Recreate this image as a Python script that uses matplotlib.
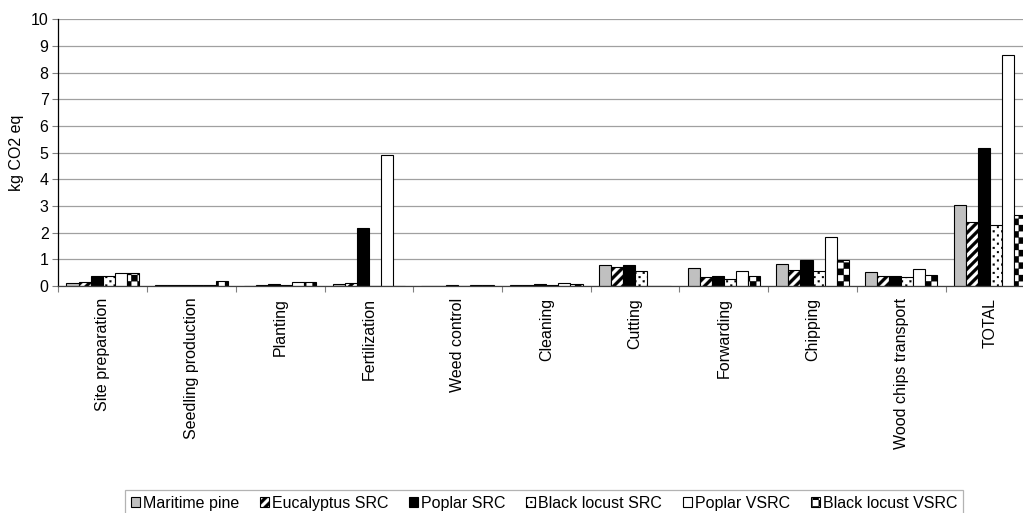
import warnings
warnings.filterwarnings("ignore")
import numpy as np
import matplotlib
matplotlib.use("Agg")
import matplotlib.pyplot as plt
import matplotlib.hatch as mhatch
from matplotlib.path import Path

# ---------------- data ----------------
categories = ["Site preparation", "Seedling production", "Planting", "Fertilization",
              "Weed control", "Cleaning", "Cutting", "Forwarding", "Chipping",
              "Wood chips transport", "TOTAL"]
series_names = ["Maritime pine", "Eucalyptus SRC", "Poplar SRC",
                "Black locust SRC", "Poplar VSRC", "Black locust VSRC"]
maritime_pine = [0.10, 0.02, 0.01, 0.07, 0.01, 0.03, 0.77, 0.66, 0.82, 0.52, 3.02]
eucalyptus_src = [0.15, 0.02, 0.02, 0.13, 0.01, 0.03, 0.71, 0.33, 0.61, 0.37, 2.40]
poplar_src = [0.37, 0.03, 0.06, 2.18, 0.02, 0.08, 0.80, 0.38, 0.96, 0.38, 5.18]
black_locust_src = [0.37, 0.03, 0.05, 0.00, 0.01, 0.05, 0.56, 0.26, 0.55, 0.35, 2.28]
poplar_vsrc = [0.47, 0.03, 0.15, 4.90, 0.02, 0.11, 0.00, 0.56, 1.84, 0.62, 8.67]
black_locust_vsrc = [0.50, 0.18, 0.15, 0.00, 0.02, 0.07, 0.00, 0.37, 0.99, 0.41, 2.67]
y_ticks = list(range(0, 11))
y_label = "kg CO2 eq"


# ---------------- custom filled hatch patterns ----------------
class _QuadHatch(mhatch.HatchPatternBase):
    char = None

    def __init__(self, hatch, density):
        self.quads = self.make_quads() if (hatch and self.char in hatch) else []
        self.num_vertices = 5 * len(self.quads)

    def make_quads(self):
        return []

    def set_vertices_and_codes(self, vertices, codes):
        for i, q in enumerate(self.quads):
            vertices[5 * i:5 * i + 4] = q
            vertices[5 * i + 4] = q[0]
            codes[5 * i] = Path.MOVETO
            codes[5 * i + 1:5 * i + 4] = Path.LINETO
            codes[5 * i + 4] = Path.CLOSEPOLY


class CheckerHatch(_QuadHatch):
    char = "k"

    def make_quads(self):
        n = 16
        s = 1.0 / n
        quads = []
        for i in range(n):
            for j in range(n):
                if (i + j) % 2 == 0:
                    x0, y0 = i * s, j * s
                    quads.append([(x0, y0), (x0 + s, y0), (x0 + s, y0 + s), (x0, y0 + s)])
        return quads


class StripeHatch(_QuadHatch):
    char = "s"

    def make_quads(self):
        k = 11
        w = 0.042
        quads = []
        for b in np.arange(-1.2, 1.2, 1.0 / k):
            quads.append([(-0.1, -0.1 + b), (1.1, 1.1 + b),
                          (1.1, 1.1 + b + w), (-0.1, -0.1 + b + w)])
        return quads


class DotHatch(_QuadHatch):
    char = "d"

    def make_quads(self):
        rows, cols = 24, 12
        h = 0.009
        quads = []
        for r in range(rows):
            y = (r + 0.5) / rows
            xoff = (r % 2) * 0.5 / cols
            for c in range(cols):
                x = (c + 0.25) / cols + xoff
                quads.append([(x - h, y - h), (x + h, y - h), (x + h, y + h), (x - h, y + h)])
        return quads


mhatch._hatch_types.extend([CheckerHatch, StripeHatch, DotHatch])

# ---------------- styling ----------------
FS = 11.5
plt.rcParams["font.family"] = ["Liberation Sans", "DejaVu Sans"]
plt.rcParams["font.size"] = FS
plt.rcParams["hatch.linewidth"] = 0.2
plt.rcParams["hatch.color"] = "black"

series_values = [maritime_pine, eucalyptus_src, poplar_src,
                 black_locust_src, poplar_vsrc, black_locust_vsrc]
faces = ["#c0c0c0", "white", "black", "white", "white", "white"]
hatches = [None, "s", None, "d", None, "k"]

fig = plt.figure(figsize=(10.23, 5.13), dpi=100)
W, H = 1023.0, 513.0
ax_left, ax_right = 58.3, 1034.4
ax_top, ax_bottom = 19.3, 286.0
ax = fig.add_axes([ax_left / W, 1 - ax_bottom / H,
                   (ax_right - ax_left) / W, (ax_bottom - ax_top) / H])

x = np.arange(len(categories))
bw = 0.136
for i, (name, vals) in enumerate(zip(series_names, series_values)):
    ax.bar(x + (i - 2.5) * bw, vals, width=bw, color=faces[i], edgecolor="black",
           linewidth=0.8, hatch=hatches[i], label=name, zorder=3)

ax.set_xlim(-0.5, len(categories) - 0.5)
ax.set_ylim(0, 10)
ax.set_yticks(y_ticks)
ax.set_xticks(x)
ax.set_xticklabels(categories, rotation=90)
ax.set_xticks(np.arange(len(categories) + 1) - 0.5, minor=True)
ax.tick_params(axis="x", which="major", length=0, pad=8.5, labelsize=FS)
ax.tick_params(axis="x", which="minor", length=4, color="#808080", width=0.8)
ax.tick_params(axis="y", length=4, color="#808080", width=0.8, pad=3, labelsize=FS)

ax.grid(axis="y", color="#a0a0a0", linewidth=0.9, zorder=0)
ax.set_axisbelow(True)
for side in ["top", "right"]:
    ax.spines[side].set_visible(False)
ax.spines["left"].set_color("black")
ax.spines["left"].set_linewidth(0.9)
ax.spines["bottom"].set_color("#404040")
ax.spines["bottom"].set_linewidth(0.9)
ax.spines["left"].set_zorder(4)
ax.spines["bottom"].set_zorder(4)

ax.set_ylabel(y_label, fontsize=FS)
ax.yaxis.set_label_coords((24.0 - ax_left) / (ax_right - ax_left), 0.5)

leg = fig.legend(loc="upper center", bbox_to_anchor=(544.0 / W, 1 - 490.0 / H),
                 ncol=6, fontsize=FS, frameon=True, fancybox=False,
                 handlelength=0.55, handleheight=0.55, handletextpad=0.2,
                 columnspacing=1.3, borderpad=0.35, borderaxespad=0)
leg.get_frame().set_edgecolor("#a0a0a0")
leg.get_frame().set_linewidth(0.9)

fig.savefig("out.png", dpi=100)
